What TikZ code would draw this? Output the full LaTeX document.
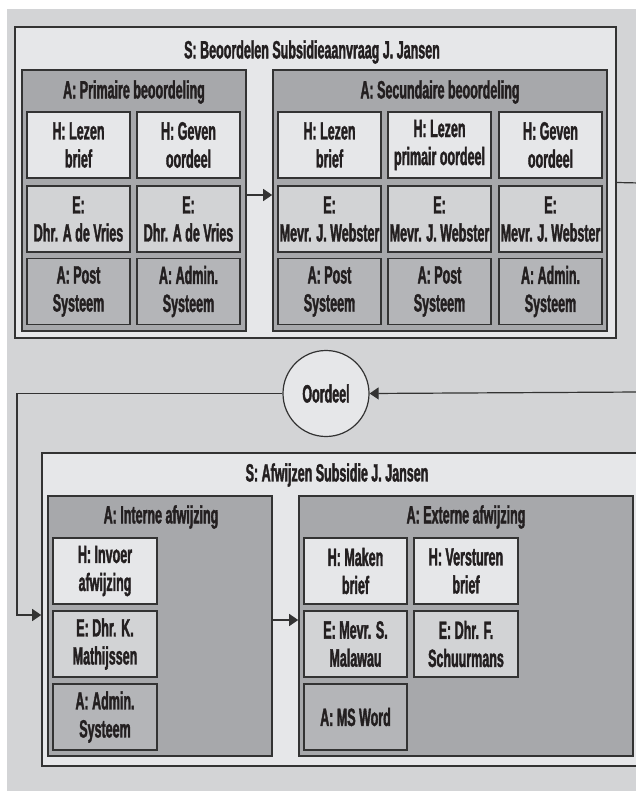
\documentclass[tikz,border=0pt]{standalone}
\usepackage{fontspec}
\setmainfont{Liberation Sans}[FakeStretch=0.5, BoldFeatures={FakeStretch=0.5, FakeBold=1.5}]
\usepackage{tikz}
\usetikzlibrary{arrows.meta, positioning, calc}

\definecolor{bgray}{HTML}{D3D4D6}
\definecolor{light}{HTML}{E6E7E9}
\definecolor{mid}{HTML}{D2D3D5}
\definecolor{dark}{HTML}{A7A8AB}
\definecolor{sys}{HTML}{B4B5B8}
\definecolor{edge}{HTML}{333333}
\definecolor{ink}{HTML}{231F20}

\tikzset{
  lbl/.style={font=\bfseries\fontsize{25}{28}\selectfont, text=ink, align=center, inner sep=0pt},
  sbox/.style={draw=edge, fill=light, line width=1.6pt, inner sep=0pt},
  abox/.style={draw=edge, fill=dark, line width=1.6pt, inner sep=0pt},
  cell/.style={lbl, draw=edge, line width=1.4pt, minimum width=103pt, minimum height=66pt},
  hcell/.style={cell, fill=light},
  ecell/.style={cell, fill=mid},
  acell/.style={cell, fill=sys},
  arr/.style={-{Triangle[length=9pt,width=12pt]}, draw=edge, line width=1.2pt},
  lne/.style={draw=edge, line width=1.2pt}
}

\begin{document}
\begin{tikzpicture}[x=1pt, y=-1pt]

\clip (0,0) rectangle (636,791);
\useasboundingbox (0,0) rectangle (636,791);
\fill[white] (0,0) rectangle (636,791);
\fill[bgray] (7,9) rectangle (636,791);

% Subproces: beoordelen
\node[sbox, minimum width=601pt, minimum height=311pt] (beoord) at (315.5,182.5) {};
\node[lbl] (beoordT) at (312,52) {S: Beoordelen Subsidieaanvraag J. Jansen};

\node[abox, minimum width=224pt, minimum height=261pt] (prim) at (134,200.5) {};
\node[lbl] (primT) at (134,92) {A: Primaire beoordeling};
\node[hcell] (p11) at (78.5,145) {H: Lezen\\brief};
\node[hcell] (p12) at (188.5,145) {H: Geven\\oordeel};
\node[ecell] (p21) at (78.5,219) {E:\\Dhr. A de Vries};
\node[ecell] (p22) at (188.5,219) {E:\\Dhr. A de Vries};
\node[acell] (p31) at (78.5,291.5) {A: Post\\Systeem};
\node[acell] (p32) at (188.5,291.5) {A: Admin.\\Systeem};

\node[abox, minimum width=334pt, minimum height=261pt] (sec) at (440,200.5) {};
\node[lbl] (secT) at (440,92) {A: Secundaire beoordeling};
\node[hcell] (s11) at (329.5,145) {H: Lezen\\brief};
\node[hcell] (s12) at (439.5,145) {H: Lezen\\primair oordeel};
\node[hcell] (s13) at (550.5,145) {H: Geven\\oordeel};
\node[ecell] (s21) at (329.5,219) {E:\\Mevr. J. Webster};
\node[ecell] (s22) at (439.5,219) {E:\\Mevr. J. Webster};
\node[ecell] (s23) at (550.5,219) {E:\\Mevr. J. Webster};
\node[acell] (s31) at (329.5,291.5) {A: Post\\Systeem};
\node[acell] (s32) at (439.5,291.5) {A: Post\\Systeem};
\node[acell] (s33) at (550.5,291.5) {A: Admin.\\Systeem};

% Beslispunt
\node[lbl, circle, draw=edge, fill=light, line width=1.2pt, minimum size=86pt] (oordeel) at (326,393.5) {Oordeel};

% Subproces: afwijzen
\node[sbox, minimum width=618pt, minimum height=313pt] (afw) at (351,609.5) {};
\node[lbl] (afwT) at (337,475) {S: Afwijzen Subsidie J. Jansen};

\node[abox, minimum width=224pt, minimum height=260pt] (intern) at (160,626) {};
\node[lbl] (internT) at (161,517) {A: Interne afwijzing};
\node[hcell, minimum width=104pt] (i1) at (105,571) {H: Invoer\\afwijzing};
\node[ecell, minimum width=104pt] (i2) at (105,644) {E: Dhr. K.\\Mathijssen};
\node[acell, minimum width=104pt] (i3) at (105,717) {A: Admin.\\Systeem};

\node[abox, minimum width=334pt, minimum height=260pt] (extern) at (466,626) {};
\node[lbl] (externT) at (466,517) {A: Externe afwijzing};
\node[hcell] (x11) at (355.5,571) {H: Maken\\brief};
\node[hcell, minimum width=104pt] (x12) at (466,571) {H: Versturen\\brief};
\node[ecell] (x21) at (355.5,644) {E: Mevr. S.\\Malawau};
\node[ecell, minimum width=104pt] (x22) at (466,644) {E: Dhr. F.\\Schuurmans};
\node[acell] (x31) at (355.5,717) {A: MS Word};

% Verbindingen
\coordinate (uit) at (640,183);
\coordinate (terug) at (640,392);
\coordinate (links) at (17,615);

\draw[arr] ([yshift=5.5pt]prim.east) -- ([yshift=5.5pt]sec.west);
\draw[lne] (beoord.east) -- (uit);
\draw[arr] (terug) -- (oordeel.east);
\draw[arr] (oordeel.west) -| (links) -- ([yshift=-5.5pt]afw.west);
\draw[arr] ([yshift=6pt]intern.east) -- ([yshift=6pt]extern.west);

\end{tikzpicture}
\end{document}
